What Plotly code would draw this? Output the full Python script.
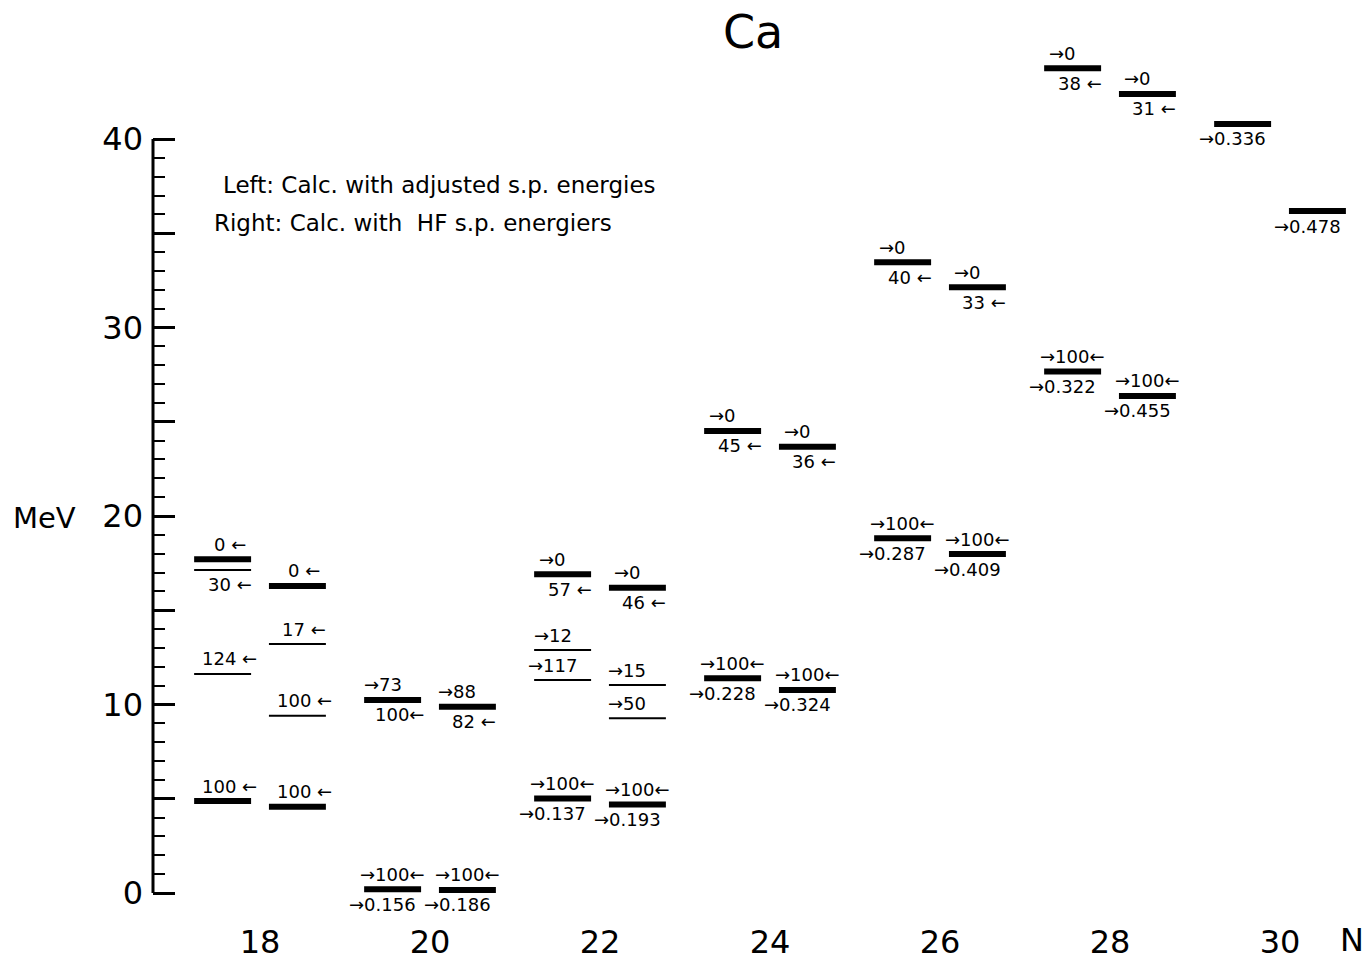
import plotly.graph_objects as go

# ---------------- data ----------------
title_text = "Ca"
x_ticks = [18, 20, 22, 24, 26, 28, 30]
y_major = [0, 5, 10, 15, 20, 25, 30, 35, 40]
y_major_text = ["0", "", "10", "", "20", "", "30", "", "40"]
y_minor = [v for v in range(0, 41) if v % 5 != 0]

level_N = [18, 18, 18, 18, 18, 18, 18, 18,
           20, 20, 20, 20,
           22, 22, 22, 22, 22, 22, 22, 22,
           24, 24, 24, 24,
           26, 26, 26, 26,
           28, 28, 28, 28,
           30, 30]
level_side = ["L", "L", "L", "L", "R", "R", "R", "R",
              "L", "L", "R", "R",
              "L", "L", "L", "L", "R", "R", "R", "R",
              "L", "L", "R", "R",
              "L", "L", "R", "R",
              "L", "L", "R", "R",
              "L", "R"]
level_E = [17.70, 17.14, 11.62, 4.88, 16.29, 13.21, 9.41, 4.58,
           10.24, 0.20, 9.88, 0.16,
           16.91, 12.89, 11.30, 5.02, 16.20, 11.03, 9.27, 4.70,
           24.51, 11.39, 23.68, 10.77,
           33.46, 18.82, 32.13, 17.98,
           43.75, 27.66, 42.39, 26.37,
           40.80, 36.18]
level_thick = [1, 0, 0, 1, 1, 0, 0, 1,
               1, 1, 1, 1,
               1, 0, 0, 1, 1, 0, 0, 1,
               1, 1, 1, 1,
               1, 1, 1, 1,
               1, 1, 1, 1,
               1, 1]
label_above = ["0 ←", "", "124 ←", "100 ←", "0 ←", "17 ←", "100 ←", "100 ←",
               "→73", "→100←", "→88", "→100←",
               "→0", "→12", "→117", "→100←", "→0", "→15", "→50", "→100←",
               "→0", "→100←", "→0", "→100←",
               "→0", "→100←", "→0", "→100←",
               "→0", "→100←", "→0", "→100←",
               "", ""]
label_below = ["", "30 ←", "", "", "", "", "", "",
               "100←", "→0.156", "82 ←", "→0.186",
               "57 ←", "", "", "→0.137", "46 ←", "", "", "→0.193",
               "45 ←", "→0.228", "36 ←", "→0.324",
               "40 ←", "→0.287", "33 ←", "→0.409",
               "38 ←", "→0.322", "31 ←", "→0.455",
               "→0.336", "→0.478"]

legend_lines = ["Left: Calc. with adjusted s.p. energies",
                "Right: Calc. with  HF s.p. energiers"]

# ---------------- layout constants ----------------
FONT = "DejaVu Sans"
COL_OFFSET = 0.44
HALF_W = 0.335
X_RANGE = [16.741, 31.035]
Y_RANGE = [-1.432, 47.374]
PLOT_L, PLOT_W, PLOT_H = 153, 1215, 920


def ypaper(v):
    return (v - Y_RANGE[0]) / (Y_RANGE[1] - Y_RANGE[0])


def px_x(px):
    return (px - PLOT_L) / PLOT_W


def px_y(py):
    return 1 - py / PLOT_H


def col_x(n, side):
    return n - COL_OFFSET if side == "L" else n + COL_OFFSET


thick_x, thick_y, thin_x, thin_y = [], [], [], []
for n, s, e, t in zip(level_N, level_side, level_E, level_thick):
    cx = col_x(n, s)
    xs = [cx - HALF_W, cx + HALF_W, None]
    ys = [e, e, None]
    if t:
        thick_x += xs
        thick_y += ys
    else:
        thin_x += xs
        thin_y += ys

fig = go.Figure()
fig.add_trace(go.Scatter(x=thick_x, y=thick_y, mode="lines",
                         line=dict(color="black", width=6), hoverinfo="skip",
                         showlegend=False))
fig.add_trace(go.Scatter(x=thin_x, y=thin_y, mode="lines",
                         line=dict(color="black", width=2), hoverinfo="skip",
                         showlegend=False))


def text_shift(t):
    if t.startswith("→") and t.endswith("←"):
        return 0
    if t.startswith("→"):
        return -10
    if t.endswith("←"):
        return 7
    return 0


LBL_FONT = dict(family=FONT, size=18, color="black")
annotations = []
for n, s, e, ta, tb in zip(level_N, level_side, level_E, label_above, label_below):
    cx = col_x(n, s)
    if ta:
        annotations.append(dict(x=cx, y=e, xref="x", yref="y", text=ta,
                                showarrow=False, xanchor="center", yanchor="middle",
                                xshift=text_shift(ta), yshift=15, font=LBL_FONT))
    if tb:
        annotations.append(dict(x=cx, y=e, xref="x", yref="y", text=tb,
                                showarrow=False, xanchor="center", yanchor="middle",
                                xshift=text_shift(tb), yshift=-15, font=LBL_FONT))

# legend text
annotations.append(dict(x=px_x(221), y=ypaper(37.56), xref="paper", yref="paper",
                        text=legend_lines[0], showarrow=False, xanchor="left",
                        yanchor="middle", font=dict(family=FONT, size=23, color="black")))
annotations.append(dict(x=px_x(212), y=ypaper(35.54), xref="paper", yref="paper",
                        text=legend_lines[1], showarrow=False, xanchor="left",
                        yanchor="middle", font=dict(family=FONT, size=23, color="black")))
# title
annotations.append(dict(x=px_x(753), y=px_y(32), xref="paper", yref="paper",
                        text=title_text, showarrow=False, xanchor="center", yanchor="middle",
                        font=dict(family=FONT, size=46, color="black")))
# axis titles
annotations.append(dict(x=px_x(44), y=ypaper(19.9), xref="paper", yref="paper",
                        text="MeV", showarrow=False, xanchor="center", yanchor="middle",
                        font=dict(family=FONT, size=29, color="black")))
annotations.append(dict(x=px_x(1352), y=px_y(940), xref="paper", yref="paper",
                        text="N", showarrow=False, xanchor="center", yanchor="middle",
                        font=dict(family=FONT, size=32, color="black")))

shapes = [dict(type="line", xref="paper", yref="paper", x0=0, x1=0,
               y0=ypaper(0), y1=ypaper(40), line=dict(color="black", width=3))]

fig.update_layout(
    width=1368, height=960,
    margin=dict(l=PLOT_L, r=0, t=0, b=40),
    paper_bgcolor="white", plot_bgcolor="white",
    showlegend=False,
    annotations=annotations,
    shapes=shapes,
    xaxis=dict(range=X_RANGE, tickvals=x_ticks, ticktext=[str(v) for v in x_ticks],
               showgrid=False, zeroline=False, showline=False, ticks="",
               tickfont=dict(family=FONT, size=32, color="black")),
    yaxis=dict(range=Y_RANGE, tickvals=y_major, ticktext=y_major_text,
               showgrid=False, zeroline=False, showline=False,
               ticks="inside", ticklen=22, tickwidth=2.5, tickcolor="black",
               ticklabelstandoff=9,
               minor=dict(tickvals=y_minor, ticks="inside", ticklen=12,
                          tickwidth=2, tickcolor="black"),
               tickfont=dict(family=FONT, size=32, color="black")),
)

fig.write_html("out.html")
